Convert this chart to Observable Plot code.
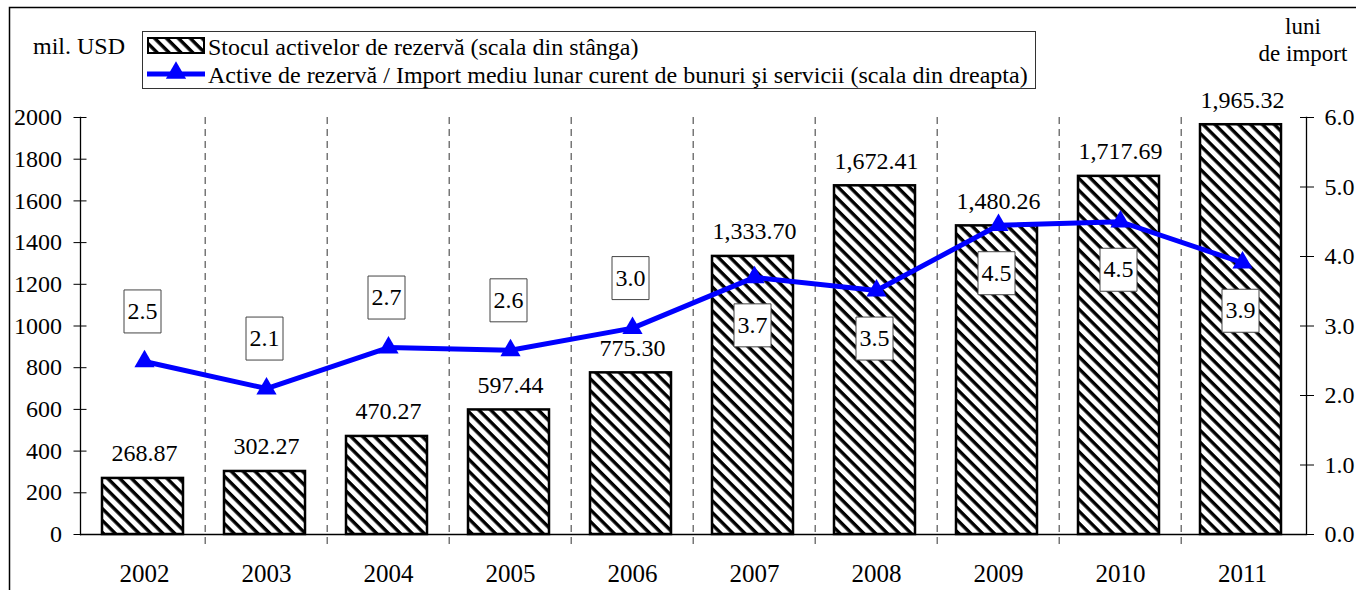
<!DOCTYPE html>
<html><head><meta charset="utf-8">
<script src="https://cdn.jsdelivr.net/npm/d3@7"></script>
<script src="https://cdn.jsdelivr.net/npm/@observablehq/plot@0.6"></script>
<style>
body{margin:0;background:#fff;}
#wrap{position:relative;width:1356px;height:590px;overflow:hidden;background:#fff;}
#chart{position:absolute;left:0;top:0;}
#overlay{position:absolute;left:0;top:0;pointer-events:none;}
svg text{font-family:"Liberation Serif","Times New Roman",Times,serif;}
</style></head><body>
<div id="wrap"><div id="chart"></div><svg id="overlay" width="1356" height="590"></svg></div>
<script>
// ---- data ----
const years = ["2002","2003","2004","2005","2006","2007","2008","2009","2010","2011"];
const reserves = [268.87, 302.27, 470.27, 597.44, 775.30, 1333.70, 1672.41, 1480.26, 1717.69, 1965.32];
const monthsOfImport = [2.49, 2.10, 2.69, 2.65, 2.97, 3.70, 3.51, 4.45, 4.50, 3.91];
const monthsLabels = ["2.5","2.1","2.7","2.6","3.0","3.7","3.5","4.5","4.5","3.9"];
const labelSide = ["above","above","above","above","above","below","below","below","below","below"];
const leftTicks = [0,200,400,600,800,1000,1200,1400,1600,1800,2000];
const rightTicks = [0,1,2,3,4,5,6];
const leftMax = 2000, rightMax = 6;
const legendLabels = ["Stocul activelor de rezervă (scala din stânga)",
  "Active de rezervă / Import mediu lunar curent de bunuri şi servicii (scala din dreapta)"];
const leftTitle = "mil. USD";
const rightTitle = ["luni","de import"];

// ---- layout ----
const W = 1356, H = 590, mL = 80, mR = 50, mT = 117, mB = 56;
const bw = (W - mL - mR) / years.length;
const k = leftMax / rightMax;
const FONT = '"Liberation Serif","Times New Roman",Times,serif';
const BLUE = "#0000ff";

const data = years.map((y, i) => ({year: y, reserves: reserves[i], months: monthsOfImport[i],
  mlabel: monthsLabels[i], side: labelSide[i]}));
const fmt = d3.format(",.2f");

const boxSymbol = {draw(ctx) { ctx.moveTo(-18.5,-21.5); ctx.lineTo(18.5,-21.5); ctx.lineTo(18.5,21.5); ctx.lineTo(-18.5,21.5); ctx.closePath(); }};

const chart = Plot.plot({
  width: W, height: H,
  marginLeft: mL, marginRight: mR, marginTop: mT, marginBottom: mB,
  style: {fontFamily: FONT, fontSize: "24px", background: "transparent", color: "#000"},
  x: {type: "band", domain: years, padding: 0},
  y: {domain: [0, leftMax]},
  marks: [
    Plot.ruleX(years.slice(1), {x: d => d, dx: -bw / 2, stroke: "#555", strokeWidth: 1.2, strokeDasharray: "7,5", insetBottom: -10}),
    Plot.barY(data, {x: "year", y: "reserves", fill: "url(#hatch)", stroke: "#000", strokeWidth: 2.5, insetLeft: 19, insetRight: 22}),
    Plot.text(data, {x: "year", y: "reserves", text: d => fmt(d.reserves), lineAnchor: "bottom", dy: -17, fontSize: 24}),
    Plot.ruleY([0], {stroke: "#000", strokeWidth: 1.5}),
    Plot.frame({anchor: "left", stroke: "#000", strokeWidth: 1.3}),
    Plot.frame({anchor: "right", stroke: "#000", strokeWidth: 1.3}),
    Plot.axisY(leftTicks, {anchor: "left", tickSize: 13, dx: 6.5, tickPadding: 12, tickFormat: d => String(d), label: null, fontSize: 24}),
    Plot.axisY(rightTicks.map(v => v * k), {anchor: "right", tickSize: 14, dx: -7, tickPadding: 11, tickFormat: d => (d / k).toFixed(1), label: null, fontSize: 24}),
    Plot.axisX({tickSize: 0, tickPadding: 30, label: null, fontSize: 25}),
    Plot.line(data, {x: "year", y: d => d.months * k, stroke: BLUE, strokeWidth: 5}),
    Plot.dot(data, {x: "year", y: d => d.months * k, symbol: "triangle", fill: BLUE, r: 7.5}),
    Plot.dot(data.filter(d => d.side === "above"), {x: "year", y: d => d.months * k, dx: -2, dy: -50, symbol: boxSymbol, fill: "#fff", stroke: "#444", strokeWidth: 1}),
    Plot.text(data.filter(d => d.side === "above"), {x: "year", y: d => d.months * k, dx: -2, dy: -50, text: "mlabel", fontSize: 24}),
    Plot.dot(data.filter(d => d.side === "below"), {x: "year", y: d => d.months * k, dx: -2, dy: 48, symbol: boxSymbol, fill: "#fff", stroke: "#444", strokeWidth: 1}),
    Plot.text(data.filter(d => d.side === "below"), {x: "year", y: d => d.months * k, dx: -2, dy: 48, text: "mlabel", fontSize: 24})
  ]
});

// hatch pattern
const svg = d3.select(chart);
const defs = svg.insert("defs", ":first-child");
const pat = defs.append("pattern").attr("id", "hatch").attr("patternUnits", "userSpaceOnUse")
  .attr("width", 8.4).attr("height", 8.4).attr("patternTransform", "rotate(45)");
pat.append("rect").attr("width", 8.4).attr("height", 8.4).attr("fill", "#fff");
pat.append("rect").attr("y", 0).attr("width", 8.4).attr("height", 3.4).attr("fill", "#000");
document.getElementById("chart").appendChild(chart);

// overlay: frame, titles, legend
const ov = d3.select("#overlay").style("font-family", FONT);
const od = ov.append("defs");
const p2 = od.append("pattern").attr("id", "hatch2").attr("patternUnits", "userSpaceOnUse")
  .attr("width", 8.4).attr("height", 8.4).attr("patternTransform", "rotate(45)");
p2.append("rect").attr("width", 8.4).attr("height", 8.4).attr("fill", "#fff");
p2.append("rect").attr("width", 8.4).attr("height", 3.4).attr("fill", "#000");
ov.append("path").attr("d", "M9.5,600V7.5H1360").attr("fill", "none").attr("stroke", "#000").attr("stroke-width", 1.5);
ov.append("text").attr("x", 33).attr("y", 54).attr("font-size", 24).text(leftTitle);
ov.append("text").attr("x", 1303).attr("y", 34).attr("text-anchor", "middle").attr("font-size", 23).text(rightTitle[0]);
ov.append("text").attr("x", 1303).attr("y", 61).attr("text-anchor", "middle").attr("font-size", 23).text(rightTitle[1]);
ov.append("rect").attr("x", 142.5).attr("y", 31.5).attr("width", 893).attr("height", 57).attr("fill", "#fff").attr("stroke", "#333").attr("stroke-width", 1);
ov.append("rect").attr("x", 148).attr("y", 38).attr("width", 56).attr("height", 15).attr("fill", "url(#hatch2)").attr("stroke", "#000").attr("stroke-width", 2);
ov.append("line").attr("x1", 147).attr("x2", 205).attr("y1", 74).attr("y2", 74).attr("stroke", BLUE).attr("stroke-width", 5);
ov.append("path").attr("d", d3.symbol(d3.symbolTriangle, 7.5 * 7.5 * Math.PI)()).attr("transform", "translate(176,73)").attr("fill", BLUE);
ov.append("text").attr("x", 208).attr("y", 55).attr("font-size", 24).text(legendLabels[0]);
ov.append("text").attr("x", 208).attr("y", 83).attr("font-size", 24).text(legendLabels[1]);
</script>
</body></html>
